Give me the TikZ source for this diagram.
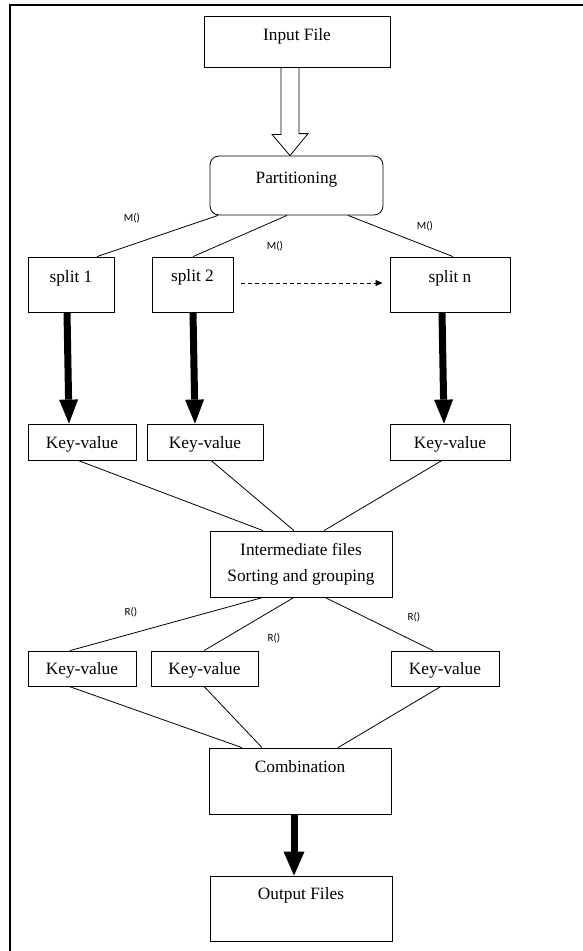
\documentclass[tikz,border=0pt]{standalone}
\usepackage{fontspec}
\setmainfont{Liberation Serif}
\newfontfamily\lblfont{Carlito}
\usetikzlibrary{arrows.meta}
\begin{document}
\begin{tikzpicture}[x=1pt,y=-1pt,
  box/.style={draw,line width=0.8pt,inner xsep=0pt,font=\fontsize{17.3}{26}\selectfont,text height=12pt},
  conn/.style={line width=0.8pt},
  thickarrow/.style={line width=7pt,-{Triangle[length=24pt,width=19pt,line width=0pt]}},
  mlabel/.style={font=\lblfont\fontsize{11}{13}\selectfont,inner sep=0pt}]
\useasboundingbox (0,0) rectangle (582,951);
% frame
\draw[line width=1.8pt] (10,955) -- (10,5) -- (586,5);
% nodes
\node[box,minimum width=186pt,minimum height=51pt,inner ysep=12pt,text depth=15pt] (input) at (297,41.5) {Input File};
\node[box,rounded corners=9pt,minimum width=173pt,minimum height=59pt,inner ysep=15pt,text depth=17pt] (part) at (296.5,185.5) {Partitioning};
\node[box,minimum width=86pt,minimum height=55pt,inner ysep=13pt,text depth=17pt] (s1) at (71,284.5) {split 1};
\node[box,minimum width=81pt,minimum height=55pt,inner ysep=12pt,text depth=18pt] (s2) at (192.5,284.5) {split 2};
\node[box,minimum width=120pt,minimum height=55pt,inner ysep=13pt,text depth=17pt] (sn) at (450,284.5) {split n};
\node[box,minimum width=108pt,minimum height=36pt,inner ysep=0pt,text depth=0pt] (k1) at (82,442) {Key-value};
\node[box,minimum width=116pt,minimum height=36pt,inner ysep=0pt,text depth=0pt] (k2) at (205,442) {Key-value};
\node[box,minimum width=120pt,minimum height=36pt,inner ysep=0pt,text depth=0pt] (k3) at (450,442) {Key-value};
\node[box,minimum width=182pt,minimum height=66pt,inner ysep=0pt,align=center,text height=,text depth=] (im) at (301,564) {Intermediate files\\Sorting and grouping};
\node[box,minimum width=108pt,minimum height=35pt,inner ysep=0pt,text depth=0pt] (r1) at (82,668.5) {Key-value};
\node[box,minimum width=107pt,minimum height=35pt,inner ysep=0pt,text depth=0pt] (r2) at (204.5,668.5) {Key-value};
\node[box,minimum width=108pt,minimum height=35pt,inner ysep=0pt,text depth=0pt] (r3) at (445,668.5) {Key-value};
\node[box,minimum width=182pt,minimum height=66pt,inner ysep=12pt,text depth=30pt] (comb) at (300,781) {Combination};
\node[box,minimum width=182pt,minimum height=65pt,inner ysep=11pt,text depth=31pt] (out) at (301,908.5) {Output Files};
% hollow arrow
\draw[line width=0.8pt,fill=white,line join=miter] ([xshift=-16pt]input.south) -- ++(0,67) -- ++(-9,0) -- (part.north -| 290,0) -- ++(18,-22) -- ++(-9,0) -- ([xshift=2pt]input.south) -- cycle;
% partition lines
\draw[conn] ([xshift=-78.5pt]part.south) -- ([xshift=26pt]s1.north);
\draw[conn] ([xshift=-9.5pt]part.south) -- ([xshift=0.5pt]s2.north);
\draw[conn] ([xshift=51.5pt]part.south) -- ([xshift=3pt]sn.north);
\node[mlabel] (m1) at (132,218) {M()};
\node[mlabel] (m2) at (275,246) {M()};
\node[mlabel] (m3) at (425,226) {M()};
% dashed arrow
\draw[line width=0.8pt,dash pattern=on 4pt off 3pt,-{Triangle[length=7pt,width=6pt]}] ([xshift=8pt,yshift=1.5pt]s2.east) -- ([xshift=-7pt,yshift=1.5pt]sn.west);
% thick arrows
\draw[thickarrow] ([xshift=-4pt]s1.south) -- ([xshift=-13pt]k1.north);
\draw[thickarrow] ([xshift=0.5pt]s2.south) -- ([xshift=-10pt]k2.north);
\draw[thickarrow] ([xshift=-8pt]sn.south) -- ([xshift=-6pt]k3.north);
% to intermediate
\draw[conn] ([xshift=-4pt]k1.south) -- ([xshift=-38pt]im.north);
\draw[conn] ([xshift=6pt]k2.south) -- ([xshift=-7pt]im.north);
\draw[conn] ([xshift=-8pt]k3.south) -- ([xshift=23pt]im.north);
% from intermediate
\draw[conn] ([xshift=-38pt]im.south) -- ([xshift=-12pt]r1.north);
\draw[conn] ([xshift=-7pt]im.south) -- ([xshift=-0.5pt]r2.north);
\draw[conn] ([xshift=24pt]im.south) -- ([xshift=-12pt]r3.north);
\node[mlabel] (q1) at (131,612) {R()};
\node[mlabel] (q2) at (274,638) {R()};
\node[mlabel] (q3) at (414,617) {R()};
% to combination
\draw[conn] ([xshift=-13pt]r1.south) -- ([xshift=-58pt]comb.north);
\draw[conn] ([xshift=-0.5pt]r2.south) -- ([xshift=-38pt]comb.north);
\draw[conn] ([xshift=-4pt]r3.south) -- ([xshift=38pt]comb.north);
% final arrow
\draw[line width=7pt,-{Triangle[length=24pt,width=21pt,line width=0pt]}] ([xshift=-6pt]comb.south) -- ([xshift=-7pt]out.north);
\end{tikzpicture}
\end{document}
